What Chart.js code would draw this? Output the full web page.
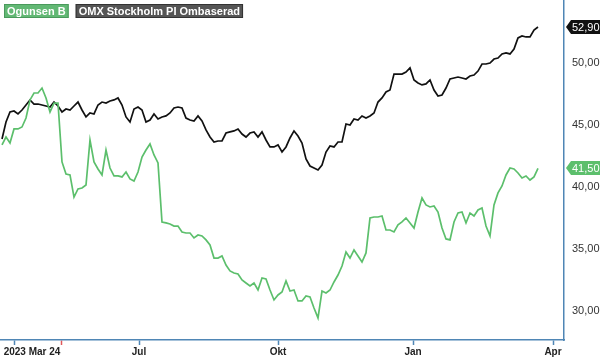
<!DOCTYPE html>
<html>
<head>
<meta charset="utf-8">
<script src="https://cdn.jsdelivr.net/npm/chart.js@4.4.0/dist/chart.umd.min.js"></script>
<style>
html, body { margin: 0; padding: 0; background: #fff; }
</style>
</head>
<body>
<canvas id="myChart" width="600" height="359"></canvas>
<script>
// closing prices, one point per sample (index on the x axis)
var ogunsen = [
    43.39, 44.03, 43.55, 44.68, 44.68, 44.84, 45.56, 47.02, 47.58, 47.58,
    47.98, 47.18, 46.05, 46.77, 46.77, 42.02, 41.05, 40.97, 39.19, 39.84,
    39.92, 40.16, 43.79, 42.02, 41.45, 40.97, 42.98, 41.53, 40.89, 40.89,
    40.81, 41.21, 40.65, 40.48, 41.21, 42.42, 42.98, 43.47, 42.58, 41.94,
    37.18, 37.10, 37.02, 36.85, 36.85, 36.37, 36.29, 36.29, 35.89, 36.13,
    36.05, 35.73, 35.32, 34.27, 34.27, 34.44, 33.71, 33.23, 33.06, 32.98,
    32.50, 32.26, 32.02, 32.26, 31.69, 32.66, 32.58, 31.69, 30.89, 31.29,
    31.53, 32.42, 31.61, 31.69, 30.81, 30.81, 31.21, 31.13, 30.24, 29.44,
    31.61, 31.45, 31.69, 32.34, 32.90, 33.63, 34.76, 34.27, 34.92, 34.44,
    33.95, 34.68, 37.50, 37.58, 37.58, 37.66, 36.53, 36.53, 36.37, 36.94,
    37.18, 37.50, 37.10, 36.69, 37.98, 39.11, 38.55, 38.39, 38.47, 37.98,
    36.69, 35.81, 35.73, 37.18, 37.90, 37.98, 37.10, 37.90, 37.66, 38.15,
    38.31, 36.85, 36.05, 38.55, 39.52, 40.08, 40.97, 41.53, 41.45, 41.13,
    40.73, 40.89, 40.56, 40.81, 41.50
];
var omx = [
    43.87, 45.24, 46.05, 46.13, 45.89, 46.21, 46.61, 47.02, 46.69, 46.69,
    46.61, 46.53, 46.45, 46.85, 46.53, 46.05, 46.29, 46.21, 46.53, 46.85,
    46.21, 45.65, 45.97, 45.89, 46.61, 46.85, 46.77, 46.94, 47.02, 47.18,
    46.61, 45.65, 45.24, 46.29, 46.45, 46.21, 45.24, 45.40, 45.89, 45.48,
    45.65, 45.73, 45.97, 46.37, 46.45, 46.37, 45.56, 45.40, 45.32, 45.73,
    45.32, 44.60, 44.03, 43.63, 43.71, 43.71, 44.35, 44.44, 44.52, 44.68,
    44.27, 44.03, 44.35, 44.44, 44.03, 44.44, 43.79, 43.23, 43.23, 43.39,
    42.82, 43.23, 43.95, 44.52, 44.11, 43.55, 42.26, 41.69, 41.53, 41.37,
    41.77, 42.82, 43.31, 43.23, 43.63, 43.63, 45.08, 45.00, 45.48, 45.40,
    45.73, 45.56, 45.73, 45.97, 46.85, 47.18, 47.66, 47.82, 49.11, 49.11,
    49.11, 49.27, 49.60, 48.63, 48.39, 48.23, 48.31, 48.63, 47.82, 47.34,
    47.42, 47.98, 48.71, 48.79, 48.87, 48.79, 48.71, 48.95, 49.03, 49.35,
    49.92, 49.92, 50.00, 50.32, 50.40, 50.73, 50.81, 50.73, 51.13, 52.02,
    52.18, 52.10, 52.10, 52.66, 52.90
];

// x axis: tick positions (sample index) and their labels
var tickPos = [3, 7.5, 14.75, 34.25, 69, 102.75, 137.75];
var tickLabels = ["", "2023 Mar 24", "", "Jul", "Okt", "Jan", "Apr"];
var yTicks = [30, 35, 40, 45, 50];

var seriesNames = ["Ogunsen B", "OMX Stockholm PI Ombaserad"];
var greenColor = "#5cbf6c";
var blackColor = "#111111";
var axisColor = "#4f86b5";

function toPoints(arr) {
    return arr.map(function (v, i) { return {x: i, y: v}; });
}
function fmt(v) {
    return v.toFixed(2).replace(".", ",");
}

Chart.defaults.font.family = '"Liberation Sans", Arial, sans-serif';

var overlay = {
    id: "overlay",
    afterDraw: function (chart) {
        var ctx = chart.ctx;
        var ys = chart.scales.y;
        var right = chart.chartArea.right;

        function tag(value, color) {
            var y = Math.round(ys.getPixelForValue(value));
            var text = fmt(value);
            ctx.save();
            ctx.font = '11px "Liberation Sans", Arial, sans-serif';
            var w = ctx.measureText(text).width + 5;
            var h = 14;
            ctx.fillStyle = color;
            ctx.beginPath();
            ctx.moveTo(right + 2, y);
            ctx.lineTo(right + 7, y - h / 2);
            ctx.lineTo(right + 7 + w, y - h / 2);
            ctx.lineTo(right + 7 + w, y + h / 2);
            ctx.lineTo(right + 7, y + h / 2);
            ctx.closePath();
            ctx.fill();
            ctx.fillStyle = "#fff";
            ctx.textBaseline = "middle";
            ctx.textAlign = "left";
            ctx.fillText(text, right + 8, y + 1);
            ctx.restore();
        }
        tag(omx[omx.length - 1], blackColor);
        tag(ogunsen[ogunsen.length - 1], greenColor);

        // legend boxes
        ctx.save();
        ctx.font = 'bold 11px "Liberation Sans", Arial, sans-serif';
        ctx.textBaseline = "middle";
        ctx.textAlign = "left";
        var x = 4;
        var fills = ["#62b874", "#555555"];
        var strokes = ["#4a9a5c", "#333333"];
        for (var i = 0; i < seriesNames.length; i++) {
            var w = ctx.measureText(seriesNames[i]).width + 6;
            ctx.fillStyle = fills[i];
            ctx.fillRect(x, 4, w, 14);
            ctx.strokeStyle = strokes[i];
            ctx.lineWidth = 1;
            ctx.strokeRect(x + 0.5, 4.5, w - 1, 13);
            ctx.fillStyle = "#fff";
            ctx.fillText(seriesNames[i], x + 3, 11.5);
            x += w + 7;
        }
        ctx.restore();
    }
};

new Chart("myChart", {
    type: "line",
    data: {
        datasets: [{
            label: seriesNames[0],
            data: toPoints(ogunsen),
            borderColor: greenColor,
            borderWidth: 1.7,
            pointRadius: 0,
            tension: 0
        }, {
            label: seriesNames[1],
            data: toPoints(omx),
            borderColor: blackColor,
            borderWidth: 1.7,
            pointRadius: 0,
            tension: 0
        }]
    },
    options: {
        responsive: false,
        animation: false,
        layout: {padding: 0},
        plugins: {
            legend: {display: false},
            tooltip: {enabled: false}
        },
        scales: {
            x: {
                type: "linear",
                min: -0.5,
                max: 140.5,
                afterBuildTicks: function (scale) {
                    scale.ticks = tickPos.map(function (v) { return {value: v}; });
                },
                afterFit: function (scale) {
                    scale.height = 19;
                    scale.paddingLeft = 0;
                    scale.paddingRight = 0;
                },
                grid: {
                    display: true,
                    drawOnChartArea: false,
                    drawTicks: true,
                    tickLength: 5,
                    tickWidth: 1.5,
                    tickColor: function (c) {
                        if (c.index === 1) return "rgba(0,0,0,0)";
                        if (c.index === 2) return "#e0585a";
                        return axisColor;
                    }
                },
                border: {display: true, color: axisColor, width: 1.5},
                ticks: {
                    autoSkip: false,
                    maxRotation: 0,
                    padding: 1,
                    color: "#222",
                    font: {size: 10, weight: "bold"},
                    callback: function (v, i) { return tickLabels[i]; }
                }
            },
            y: {
                position: "right",
                min: 27.66,
                max: 55.08,
                afterBuildTicks: function (scale) {
                    scale.ticks = yTicks.map(function (v) { return {value: v}; });
                },
                afterFit: function (scale) {
                    scale.width = 36;
                    scale.paddingTop = 0;
                    scale.paddingBottom = 0;
                },
                grid: {display: true, drawOnChartArea: false, drawTicks: false},
                border: {display: true, color: axisColor, width: 1.5},
                ticks: {
                    padding: 8,
                    color: "#333",
                    font: {size: 11},
                    callback: function (v) { return fmt(v); }
                }
            }
        }
    },
    plugins: [overlay]
});
</script>
</body>
</html>
